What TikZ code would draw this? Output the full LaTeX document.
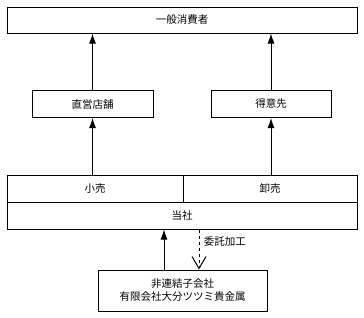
\documentclass[tikz,border=0pt]{standalone}
\usepackage{fontspec}
\setmainfont{Noto Sans CJK JP}
\usetikzlibrary{arrows.meta,calc}

\begin{document}
\begin{tikzpicture}[x=1pt, y=-1pt, line width=1pt,
    box/.style={draw, rectangle, inner sep=0pt, minimum height=27pt,
      font=\fontsize{10.5}{13}\selectfont},
    arr/.style={-{Latex[length=10pt,width=7pt]}},
    darr/.style={dashed, -{Straight Barb[length=12pt,width=14pt]}}]
        % Frame
        \useasboundingbox (0,0) rectangle (364,317);

        % Boxes
        \node[box, minimum width=350pt, minimum height=26pt] (user) at (182,20) {一般消費者};
        \node[box, minimum width=121pt] (tenpo) at (92.5,104) {直営店舗};
        \node[box, minimum width=120pt] (tokui) at (271,104) {得意先};
        \node[box, minimum width=176pt] (kouri) at (95,188.5) {小売};
        \node[box, minimum width=174pt] (oroshi) at (270,188.5) {卸売};
        \node[box, minimum width=350pt] (tousha) at (182,215.5) {当社};
        \node[box, minimum width=169pt, minimum height=41pt, align=center] (sub) at (182.5,290.5)
          {非連結子会社\\有限会社大分ツツミ貴金属};

        % Arrows
        \draw[arr] (tenpo.north) -- (tenpo.north |- user.south);
        \draw[arr] (tokui.north) -- (tokui.north |- user.south);
        \draw[arr] (kouri.north -| tenpo.north) -- (tenpo.south);
        \draw[arr] (oroshi.north -| tokui.north) -- (tokui.south);
        \draw[arr] ([xshift=-18.5pt]sub.north) -- ([xshift=-18.5pt]sub.north |- tousha.south);
        \draw[darr] ([xshift=17pt]tousha.south) -- ([xshift=17pt]tousha.south |- sub.north)
          node[pos=0.3, right=1pt, font=\fontsize{10.5}{13}\selectfont] (itaku) {委託加工};

      \end{tikzpicture}
\end{document}
